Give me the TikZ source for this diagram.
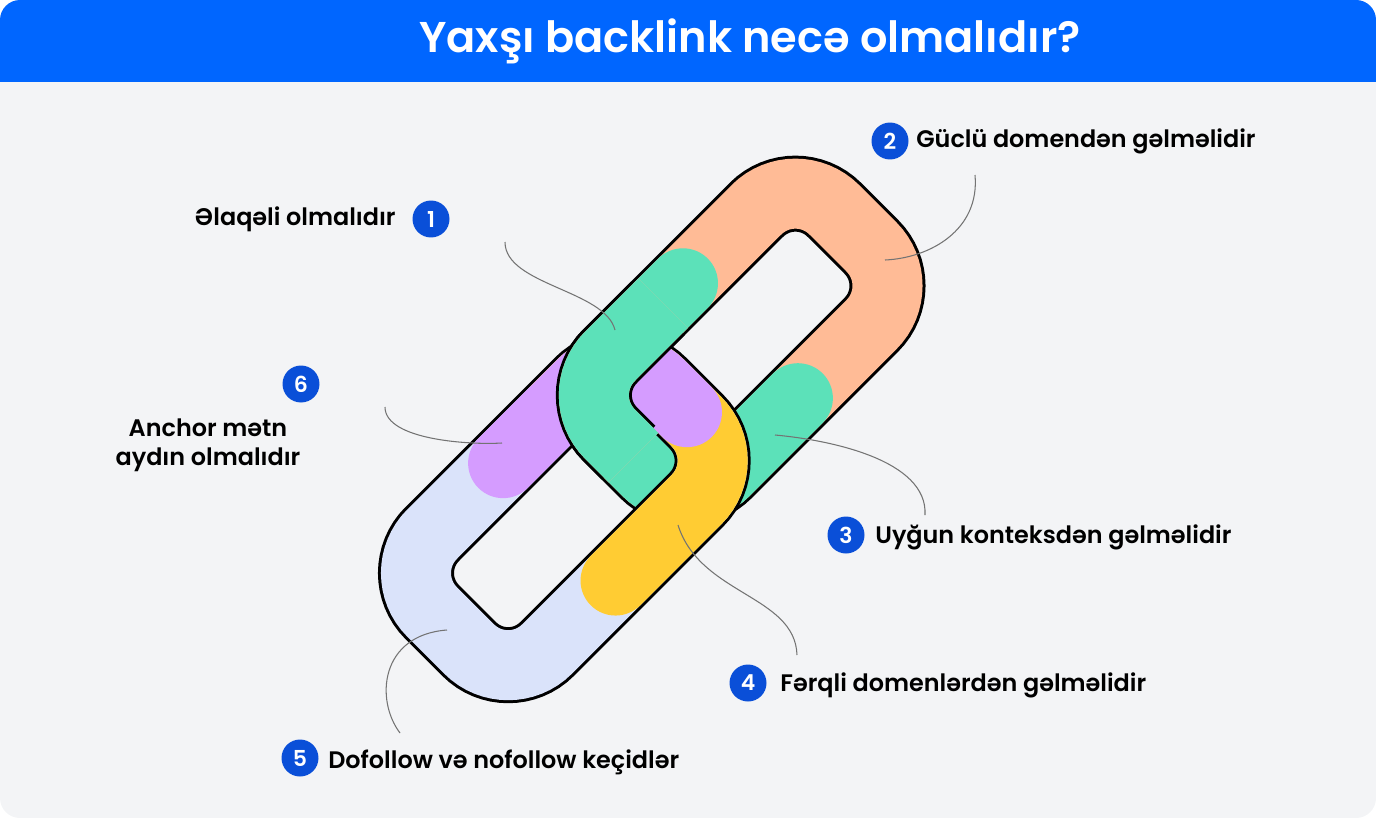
\documentclass[tikz,border=0pt]{standalone}
\usepackage{fontspec}
\setmainfont{Poppins}[BoldFont={* SemiBold}]
\definecolor{bgc}{HTML}{F3F4F6}
\definecolor{hdr}{HTML}{0066FF}
\definecolor{badge}{HTML}{0A4FD8}
\definecolor{orng}{HTML}{FFBB96}
\definecolor{grn}{HTML}{5CE1B9}
\definecolor{lblue}{HTML}{DAE3FA}
\definecolor{purp}{HTML}{D59CFF}
\definecolor{yel}{HTML}{FFCC33}
\tikzset{
 edgeline/.style={line width=1.52cm,black},
 bandline/.style={line width=1.4cm},
 lbl/.style={font=\bfseries\fontsize{13.6}{16.5}\selectfont,inner sep=0pt},
 num/.style={circle,fill=badge,text=white,minimum size=0.74cm,inner sep=0pt,font=\bfseries\fontsize{12.5}{14}\selectfont},
 lead/.style={draw=black!55,line width=0.6pt}
}
\newcommand\linkAedge{%
 \draw[edgeline,rounded corners=1.1cm] (176,967) -- (625,967) -- (625,1197) -- (176,1197) -- cycle;}
\newcommand\linkAfill{%
 \draw[bandline,orng,rounded corners=1.1cm] (176,967) -- (625,967) -- (625,1197) -- (176,1197) -- cycle;
 \draw[bandline,grn,line cap=round,rounded corners=1.1cm] (400,967) -- (176,967) -- (176,1197) -- (400,1197);
}
\newcommand\linkB{%
 \draw[edgeline,rounded corners=1.1cm] (-180,967) -- (275,967) -- (275,1197) -- (-180,1197) -- cycle;
 \draw[bandline,lblue,rounded corners=1.1cm] (-180,967) -- (275,967) -- (275,1197) -- (-180,1197) -- cycle;
 \draw[bandline,yel,line cap=round,rounded corners=1.1cm] (35,1197) -- (275,1197) -- (275,967) -- (150,967);
 \draw[bandline,purp,line cap=round,rounded corners=1.1cm] (40,967) -- (275,967) -- (275,1100);
}
\begin{document}
\begin{tikzpicture}[x=0.02cm,y=-0.02cm]
\useasboundingbox (0,0) rectangle (1376,818);
\fill[bgc,rounded corners=0.4cm] (0,0) rectangle (1376,818);
\fill[hdr,rounded corners=0.4cm] (0,0) rectangle (1376,100);
\fill[bgc] (0,82) rectangle (1376,110);
\node[text=white,font=\bfseries\fontsize{24.5}{28}\selectfont] (title) at (750,41) {Yaxşı backlink necə olmalıdır?};
\begin{scope}[x={(0.01cm,0.01cm)},y={(0.01cm,-0.01cm)}]
 \linkAedge
 \linkAfill
 \linkB
 \begin{scope}
  \clip (100,850) -- (350,850) -- (350,1082) -- (100,1082) -- cycle;
  \linkAedge
 \end{scope}
 \begin{scope}
  \clip (100,850) -- (360,850) -- (360,1092) -- (100,1092) -- cycle;
  \linkAfill
 \end{scope}
\end{scope}
% leaders
\coordinate (a1) at (505,242); \coordinate (b1) at (615,330);
\coordinate (a2) at (975,175); \coordinate (b2) at (885,260);
\coordinate (a3) at (925,515); \coordinate (b3) at (775,435);
\coordinate (a4) at (797,655); \coordinate (b4) at (678,525);
\coordinate (a5) at (400,733); \coordinate (b5) at (447,630);
\coordinate (a6) at (385,407); \coordinate (b6) at (502,443);
\draw[lead] (a1) .. controls (505,285) and (605,290) .. (b1);
\draw[lead] (a2) .. controls (980,230) and (930,258) .. (b2);
\draw[lead] (a3) .. controls (928,460) and (830,440) .. (b3);
\draw[lead] (a4) .. controls (795,595) and (700,595) .. (b4);
\draw[lead] (a5) .. controls (375,700) and (380,635) .. (b5);
\draw[lead] (a6) .. controls (385,440) and (470,445) .. (b6);
% labels
\node[num] (n1) at (431,219) {1};
\node[lbl,anchor=east] (t1) at (396,219) {Əlaqəli olmalıdır};
\node[num] (n2) at (890,141) {2};
\node[lbl,anchor=west] (t2) at (916,141) {Güclü domendən gəlməlidir};
\node[num] (n3) at (846,535) {3};
\node[lbl,anchor=west] (t3) at (875,537) {Uyğun konteksdən gəlməlidir};
\node[num] (n4) at (748,683) {4};
\node[lbl,anchor=west] (t4) at (780,685) {Fərqli domenlərdən gəlməlidir};
\node[num] (n5) at (300,758) {5};
\node[lbl,anchor=west] (t5) at (328,762) {Dofollow və nofollow keçidlər};
\node[num] (n6) at (301,384) {6};
\node[lbl,align=center] (t6) at (208,445) {Anchor mətn\\aydın olmalıdır};
\end{tikzpicture}
\end{document}
